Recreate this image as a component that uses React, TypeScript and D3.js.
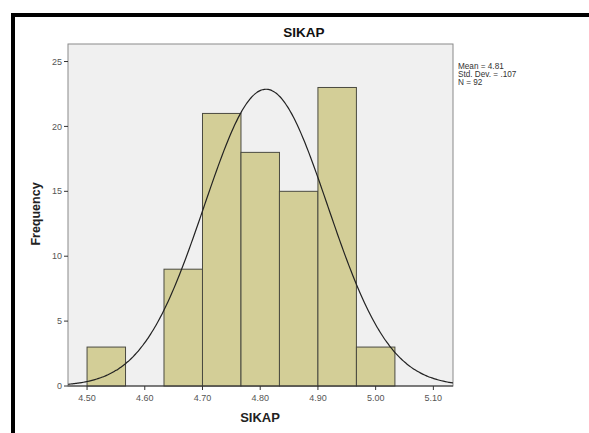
import * as d3 from "d3"

// histogram bins (lower edge, upper edge, count)
const binStarts = [4.5, 4.5667, 4.6333, 4.7, 4.7667, 4.8333, 4.9, 4.9667]
const binWidth = 1 / 15
const counts = [3, 0, 9, 21, 18, 15, 23, 3]
const xTicks = [4.5, 4.6, 4.7, 4.8, 4.9, 5.0, 5.1]
const yTicks = [0, 5, 10, 15, 20, 25]
const statLines = ["Mean = 4.81", "Std. Dev. = .107", "N = 92"]
const mean = 4.81
const sd = 0.107
const n = 92

const W = 589
const H = 433
const plot = { left: 68, top: 44, right: 453, bottom: 386 }
const font = "'Liberation Sans', Arial, sans-serif"

export default function App() {
  const x = d3.scaleLinear().domain([4.467, 5.134]).range([plot.left, plot.right])
  const y = d3.scaleLinear().domain([0, 26.35]).range([plot.bottom, plot.top])

  // normal curve scaled to counts
  const pdf = (v: number) =>
    (n * binWidth) / (sd * Math.sqrt(2 * Math.PI)) * Math.exp(-((v - mean) ** 2) / (2 * sd * sd))
  const curvePts = d3.range(0, 201).map((i) => {
    const v = x.domain()[0] + ((x.domain()[1] - x.domain()[0]) * i) / 200
    return [v, pdf(v)] as [number, number]
  })
  const line = d3
    .line<[number, number]>()
    .x((d) => x(d[0]))
    .y((d) => y(d[1]))
    .curve(d3.curveBasis)

  return (
    <div style={{ position: "fixed", left: 0, top: 0 }}>
      <svg width={W} height={H} style={{ display: "block", background: "#fff" }}>
        {/* outer black frame */}
        <path d={`M13,${H} L13,15 L${W},15`} fill="none" stroke="#000" strokeWidth={4} />

        <text x={304} y={37} textAnchor="middle" fontFamily={font} fontWeight="bold" fontSize={13.5} fill="#111">
          SIKAP
        </text>

        <rect x={plot.left} y={plot.top} width={plot.right - plot.left} height={plot.bottom - plot.top} fill="#f0f0f0" stroke="#8a8a8a" strokeWidth={1} />

        {counts.map((c, i) =>
          c > 0 ? (
            <rect
              key={i}
              x={x(binStarts[i])}
              y={y(c)}
              width={x(binStarts[i] + binWidth) - x(binStarts[i])}
              height={y(0) - y(c)}
              fill="#d3ce97"
              stroke="#4a4a40"
              strokeWidth={1}
            />
          ) : null,
        )}

        <path d={line(curvePts) ?? ""} fill="none" stroke="#222" strokeWidth={1.2} />

        {/* baseline */}
        <line x1={plot.left} x2={plot.right} y1={plot.bottom} y2={plot.bottom} stroke="#333" strokeWidth={1} />

        {/* y axis */}
        {yTicks.map((t) => (
          <g key={t} transform={`translate(${plot.left},${y(t)})`}>
            <line x1={-4} x2={0} stroke="#333" />
            <text x={-6} dy="0.35em" textAnchor="end" fontFamily={font} fontSize={9} fill="#555">
              {t}
            </text>
          </g>
        ))}

        {/* x axis */}
        {xTicks.map((t) => (
          <g key={t} transform={`translate(${x(t)},${plot.bottom})`}>
            <line y1={0} y2={4} stroke="#333" />
            <text y={14.5} textAnchor="middle" fontFamily={font} fontSize={9} fill="#555">
              {t.toFixed(2)}
            </text>
          </g>
        ))}

        <text x={260} y={421.5} textAnchor="middle" fontFamily={font} fontWeight="bold" fontSize={13} fill="#222">
          SIKAP
        </text>
        <text transform="translate(39.5,214) rotate(-90)" textAnchor="middle" fontFamily={font} fontWeight="bold" fontSize={12.5} fill="#222">
          Frequency
        </text>

        {statLines.map((s, i) => (
          <text key={s} x={458} y={69 + i * 8} fontFamily={font} fontSize={8.2} fill="#333">
            {s}
          </text>
        ))}
      </svg>
    </div>
  )
}
